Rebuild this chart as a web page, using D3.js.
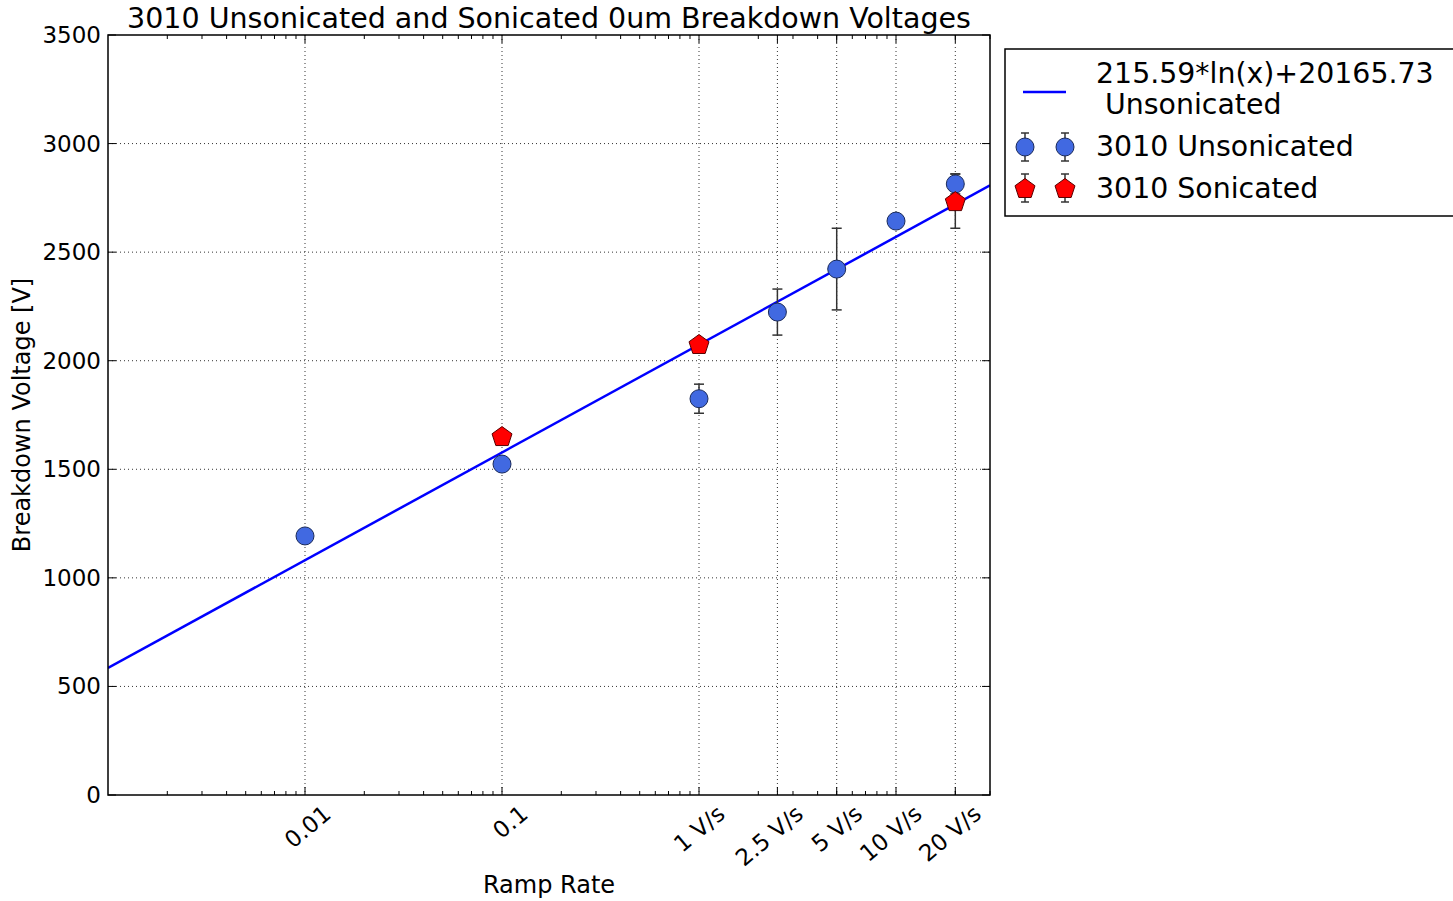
<!doctype html>
<html>
<head>
<meta charset="utf-8"/>
<title>3010 Breakdown Voltages</title>
<script src="https://d3js.org/d3.v7.min.js"></script>
<style>
  body { margin:0; background:#fff; font-family:"DejaVu Sans", sans-serif; }
  .grid line { stroke:#000; stroke-dasharray:1,3; stroke-opacity:0.8; }
</style>
</head>
<body>
<script>
// ramp rates (V/s) and tick labels
const tickRates  = [0.01, 0.1, 1, 2.5, 5, 10, 20];
const tickLabels = ["0.01", "0.1", "1 V/s", "2.5 V/s", "5 V/s", "10 V/s", "20 V/s"];

// unsonicated points: rate, voltage, error
const unsonRate = [0.01, 0.1, 1, 2.5, 5, 10, 20];
const unsonV    = [1193, 1524, 1825, 2224, 2422, 2643, 2814];
const unsonErr  = [0, 0, 67, 106, 188, 0, 46];

// sonicated points
const sonRate = [0.1, 1, 20];
const sonV    = [1653, 2077, 2735];
const sonErr  = [0, 0, 125];

// fit line  a*ln(x)+b
const fitA = 215.59, fitB = 2074;

const W = 1453, H = 901;
const m = {left:108, top:35, right:990, bottom:795};

let svg = d3.select('body').append('svg').attr('width', W).attr('height', H);

var x = d3.scaleLog().domain([0.001, 30]).range([m.left, m.right]);
var y = d3.scaleLinear().domain([0, 3500]).range([m.bottom, m.top]);

// grid
let grid = svg.append('g').attr('class', 'grid');
grid.selectAll('.gx').data(tickRates).enter().append('line')
  .attr('x1', d=>x(d)).attr('x2', d=>x(d)).attr('y1', m.top).attr('y2', m.bottom);
grid.selectAll('.gy').data(d3.range(500, 3500, 500)).enter().append('line')
  .attr('x1', m.left).attr('x2', m.right).attr('y1', d=>y(d)).attr('y2', d=>y(d));

// minor ticks on log axis (inward, top and bottom)
let minors = [];
[0.001, 0.01, 0.1, 1, 10].forEach(dec => {
  for (let k=2; k<10; k++) { if (dec*k <= 30) minors.push(dec*k); }
});
let tk = svg.append('g').attr('stroke', '#000').attr('stroke-width', 1);
tk.selectAll('.mb').data(minors).enter().append('line')
  .attr('x1', d=>x(d)).attr('x2', d=>x(d)).attr('y1', m.bottom).attr('y2', m.bottom-4);
tk.selectAll('.mt').data(minors).enter().append('line')
  .attr('x1', d=>x(d)).attr('x2', d=>x(d)).attr('y1', m.top).attr('y2', m.top+4);
tk.selectAll('.Mb').data(tickRates).enter().append('line')
  .attr('x1', d=>x(d)).attr('x2', d=>x(d)).attr('y1', m.bottom).attr('y2', m.bottom-8);
tk.selectAll('.Mt').data(tickRates).enter().append('line')
  .attr('x1', d=>x(d)).attr('x2', d=>x(d)).attr('y1', m.top).attr('y2', m.top+8);
tk.selectAll('.yl').data(d3.range(0, 3501, 500)).enter().append('line')
  .attr('x1', m.left).attr('x2', m.left+8).attr('y1', d=>y(d)).attr('y2', d=>y(d));
tk.selectAll('.yr').data(d3.range(0, 3501, 500)).enter().append('line')
  .attr('x1', m.right).attr('x2', m.right-8).attr('y1', d=>y(d)).attr('y2', d=>y(d));

// y tick labels
svg.selectAll('.ylab').data(d3.range(0, 3501, 500)).enter().append('text')
  .attr('x', m.left-7).attr('y', d=>y(d)).attr('dy', '0.35em')
  .attr('text-anchor', 'end').style('font-size', '23px').text(d=>d);

// x tick labels, rotated
svg.selectAll('.xlab').data(tickRates).enter().append('text')
  .attr('transform', d=>`translate(${x(d)+17},${m.bottom+9}) rotate(-40)`)
  .attr('text-anchor', 'end').attr('dy', '0.7em')
  .style('font-size', '23px').text((d,i)=>tickLabels[i]);

// fit line
let clip = svg.append('clipPath').attr('id', 'clip').append('rect')
  .attr('x', m.left).attr('y', m.top).attr('width', m.right-m.left).attr('height', m.bottom-m.top);
let fitX = [0.001, 30];
svg.append('line').attr('clip-path', 'url(#clip)')
  .attr('x1', x(fitX[0])).attr('y1', y(fitA*Math.log(fitX[0])+fitB))
  .attr('x2', x(fitX[1])).attr('y2', y(fitA*Math.log(fitX[1])+fitB))
  .attr('stroke', '#0000ff').attr('stroke-width', 2.5);

// error bars
function errBars(rates, vals, errs) {
  let g = svg.append('g').attr('stroke', '#333').attr('stroke-width', 1.5);
  rates.forEach((r,i) => {
    if (!errs[i]) return;
    let cx = x(r), y1 = y(vals[i]-errs[i]), y2 = y(vals[i]+errs[i]);
    g.append('line').attr('x1', cx).attr('x2', cx).attr('y1', y1).attr('y2', y2);
    g.append('line').attr('x1', cx-5).attr('x2', cx+5).attr('y1', y1).attr('y2', y1);
    g.append('line').attr('x1', cx-5).attr('x2', cx+5).attr('y1', y2).attr('y2', y2);
  });
}
errBars(unsonRate, unsonV, unsonErr);
errBars(sonRate, sonV, sonErr);

function pentagon(r) {
  let pts = d3.range(5).map(k => {
    let a = -Math.PI/2 + k*2*Math.PI/5;
    return [r*Math.cos(a), r*Math.sin(a)];
  });
  return 'M' + pts.map(p=>p.join(',')).join('L') + 'Z';
}

svg.selectAll('.unson').data(unsonRate).enter().append('circle')
  .attr('cx', d=>x(d)).attr('cy', (d,i)=>y(unsonV[i])).attr('r', 9)
  .style('fill', '#4169e1').style('stroke', '#1a2a5a').style('stroke-width', 1);

svg.selectAll('.son').data(sonRate).enter().append('path')
  .attr('transform', (d,i)=>`translate(${x(d)},${y(sonV[i])+1})`)
  .attr('d', pentagon(10.5))
  .style('fill', '#ff0000').style('stroke', '#5a0000').style('stroke-width', 1);

// frame
svg.append('rect').attr('x', m.left).attr('y', m.top)
  .attr('width', m.right-m.left).attr('height', m.bottom-m.top)
  .attr('fill', 'none').attr('stroke', '#000').attr('stroke-width', 1.5);

// title and axis labels
svg.append('text').attr('x', (m.left+m.right)/2).attr('y', 28)
  .attr('text-anchor', 'middle').style('font-size', '28.5px')
  .text('3010 Unsonicated and Sonicated 0um Breakdown Voltages');
svg.append('text').attr('x', (m.left+m.right)/2).attr('y', 893)
  .attr('text-anchor', 'middle').style('font-size', '24px').text('Ramp Rate');
svg.append('text').attr('transform', `translate(30,${(m.top+m.bottom)/2}) rotate(-90)`)
  .attr('text-anchor', 'middle').style('font-size', '24px').text('Breakdown Voltage [V]');

// legend
let lg = svg.append('g');
lg.append('rect').attr('x', 1005).attr('y', 49).attr('width', 460).attr('height', 167)
  .attr('fill', '#fff').attr('stroke', '#000').attr('stroke-width', 1.5);
lg.append('line').attr('x1', 1023).attr('x2', 1066).attr('y1', 92).attr('y2', 92)
  .attr('stroke', '#0000ff').attr('stroke-width', 2.5);
lg.append('text').attr('x', 1096).attr('y', 83).style('font-size', '28.4px').text('215.59*ln(x)+20165.73');
lg.append('text').attr('x', 1105).attr('y', 114).style('font-size', '28.4px').text('Unsonicated');
[1025, 1065].forEach(cx => {
  [147, 188].forEach(cy => {
    lg.append('line').attr('x1', cx).attr('x2', cx).attr('y1', cy-14).attr('y2', cy+14)
      .attr('stroke', '#333').attr('stroke-width', 1.5);
    lg.append('line').attr('x1', cx-4).attr('x2', cx+4).attr('y1', cy-14).attr('y2', cy-14)
      .attr('stroke', '#333').attr('stroke-width', 1.5);
    lg.append('line').attr('x1', cx-4).attr('x2', cx+4).attr('y1', cy+14).attr('y2', cy+14)
      .attr('stroke', '#333').attr('stroke-width', 1.5);
  });
  lg.append('circle').attr('cx', cx).attr('cy', 147).attr('r', 9)
    .style('fill', '#4169e1').style('stroke', '#1a2a5a');
  lg.append('path').attr('transform', `translate(${cx},189)`).attr('d', pentagon(10.5))
    .style('fill', '#ff0000').style('stroke', '#5a0000');
});
lg.append('text').attr('x', 1096).attr('y', 156).style('font-size', '28.4px').text('3010 Unsonicated');
lg.append('text').attr('x', 1096).attr('y', 198).style('font-size', '28.4px').text('3010 Sonicated');
</script>
</body>
</html>
